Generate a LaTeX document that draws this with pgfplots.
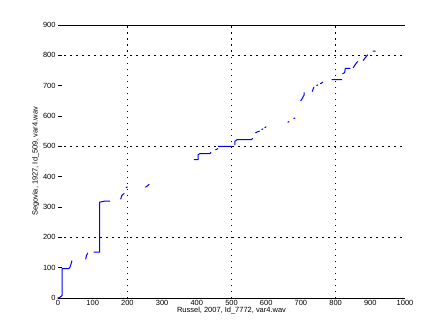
\documentclass[border=0pt]{standalone}
\usepackage{pgfplots}
\pgfplotsset{compat=1.18}
\usepackage{fontspec}
\setmainfont{Liberation Sans}
\begin{document}
\begin{tikzpicture}[x=1bp,y=1bp]
\path[fill=white] (0,0) rectangle (447,335);
\begin{axis}[
  at={(58bp,37bp)}, anchor=south west,
  width=347bp, height=273bp, scale only axis,
  xmin=0, xmax=1000, ymin=0, ymax=900,
  xtick={0,100,...,1000}, ytick={0,100,...,900},
  separate axis lines,
  x axis line style={black, line width=1bp},
  y axis line style={draw=none},
  xtick style={draw=none},
  ytick style={black, line width=0.8bp},
  ytick pos=left, xtick pos=bottom,
  tick align=inside, major tick length=4bp,
  /pgf/number format/assume math mode=true,
  /pgf/number format/1000 sep={},
  tick label style={font=\fontsize{7.5}{8}\selectfont},
  label style={font=\fontsize{7.5}{8}\selectfont},
  xticklabel style={yshift=1bp},
  yticklabel style={xshift=1bp},
  xlabel={Russel, 2007, Id\_7772, var4.wav},
  ylabel={Segovia, 1927, Id\_509, var4.wav},
  xlabel style={yshift=6bp},
  ylabel style={yshift=-3bp},
  extra x ticks={200,500,800}, extra x tick labels={},
  extra y ticks={200,500,800}, extra y tick labels={},
  extra x tick style={grid=major, tick style={draw=none}},
  extra y tick style={grid=major, tick style={draw=none}},
  major grid style={black, line width=0.8bp, dash pattern=on 1.5bp off 4.5bp},
  unbounded coords=jump,
  clip=false,
]
\addplot[blue, line width=1bp, line join=miter, line cap=rect] coordinates {
(0,0)(5,2)(12,8)(12,97)(20,97)(31,97)(34,100)(37,110)(40,122) (nan,nan)
(80,129)(82,140)(85,147) (nan,nan)
(104,151)(116,151)(120,151)(120,316)(133,319)(149,319) (nan,nan)
(181,327)(184,338)(190,344) (nan,nan)
(197,364)(199,366) (nan,nan)
(253,366)(258,370)(262,374) (nan,nan)
(393,456)(404,456)(404,473)(409,476)(438,476)(440,479) (nan,nan)
(455,489)(460,492) (nan,nan)
(463,500)(500,500) (nan,nan)
(510,506)(510,517)(516,522)(558,522)(560,526) (nan,nan)
(570,545)(575,548)(580,550) (nan,nan)
(588,556)(590,557) (nan,nan)
(597,562)(599,564) (nan,nan)
(663,580)(665,581) (nan,nan)
(680,592)(682,593) (nan,nan)
(700,651)(705,660)(709,669)(709,676) (nan,nan)
(733,682)(737,694) (nan,nan)
(746,701)(748,702) (nan,nan)
(757,707)(762,711) (nan,nan)
(790,720)(817,720) (nan,nan)
(821,740)(826,743)(828,757)(841,757) (nan,nan)
(851,760)(857,770)(863,779) (nan,nan)
(880,784)(886,793)(892,801) (nan,nan)
(908,814)(914,814)
};
\end{axis}
\end{tikzpicture}
\end{document}
